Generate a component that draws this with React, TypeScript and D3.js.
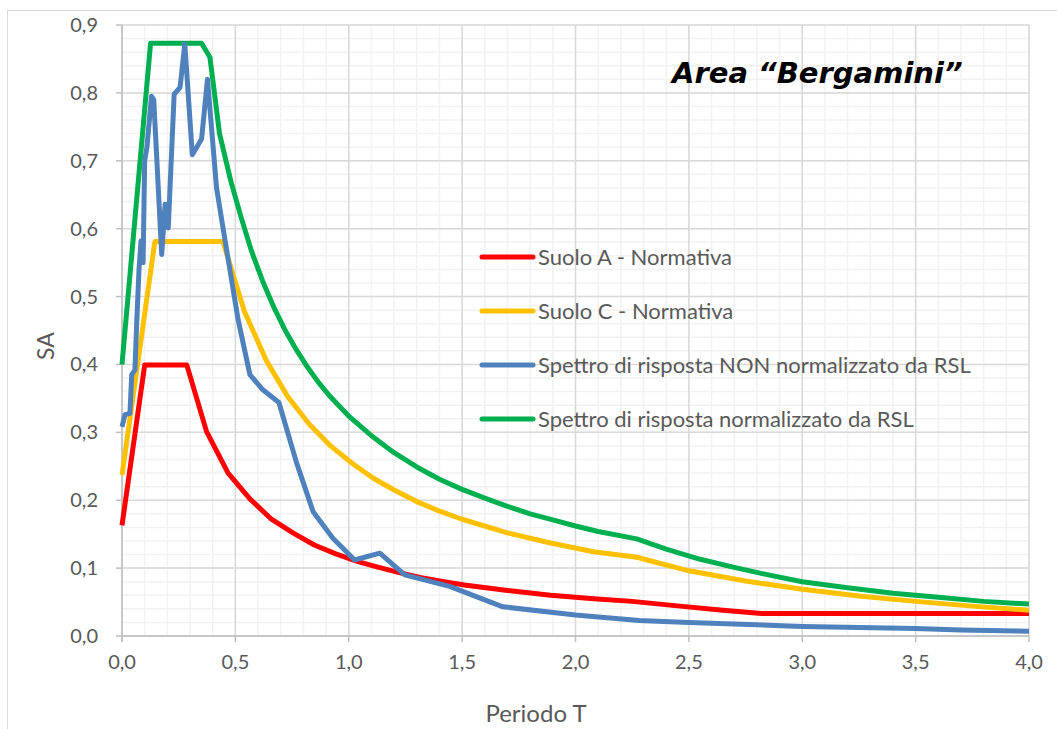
import * as d3 from "d3";

// periods (s) and spectral accelerations (g)
const suoloA_T = [0, 0.1, 0.286, 0.373, 0.468, 0.564, 0.659, 0.754, 0.848, 0.943, 1.037, 1.132, 1.227, 1.32, 1.42, 1.51, 1.7, 1.89, 2.08, 2.25, 2.46, 2.65, 2.82, 3.0, 3.5, 4.0];
const suoloA_SA = [0.163, 0.399, 0.399, 0.301, 0.24, 0.202, 0.172, 0.152, 0.134, 0.121, 0.11, 0.101, 0.093, 0.086, 0.08, 0.075, 0.067, 0.06, 0.055, 0.051, 0.044, 0.038, 0.033, 0.033, 0.033, 0.033];

const suoloC_T = [0, 0.145, 0.445, 0.54, 0.636, 0.73, 0.826, 0.92, 1.016, 1.11, 1.2, 1.3, 1.4, 1.5, 1.7, 1.89, 2.08, 2.27, 2.5, 2.75, 3.0, 3.25, 3.5, 3.75, 4.0];
const suoloC_SA = [0.237, 0.581, 0.581, 0.478, 0.406, 0.353, 0.312, 0.28, 0.254, 0.232, 0.215, 0.198, 0.184, 0.172, 0.152, 0.137, 0.124, 0.116, 0.096, 0.081, 0.069, 0.059, 0.051, 0.044, 0.038];

const nonNorm_T = [0, 0.013, 0.035, 0.043, 0.057, 0.065, 0.075, 0.084, 0.093, 0.1, 0.11, 0.13, 0.14, 0.175, 0.19, 0.204, 0.23, 0.256, 0.277, 0.31, 0.351, 0.377, 0.417, 0.446, 0.512, 0.564, 0.62, 0.692, 0.77, 0.843, 0.93, 1.026, 1.137, 1.247, 1.445, 1.68, 2.0, 2.28, 2.5, 3.0, 3.5, 3.7, 4.0];
const nonNorm_SA = [0.308, 0.326, 0.328, 0.385, 0.392, 0.462, 0.54, 0.582, 0.55, 0.7, 0.72, 0.795, 0.79, 0.562, 0.636, 0.601, 0.798, 0.808, 0.872, 0.709, 0.732, 0.82, 0.66, 0.6, 0.466, 0.385, 0.363, 0.344, 0.255, 0.183, 0.144, 0.112, 0.122, 0.09, 0.073, 0.043, 0.031, 0.023, 0.02, 0.014, 0.011, 0.009, 0.007];

const norm_T = [0, 0.126, 0.351, 0.388, 0.43, 0.48, 0.525, 0.57, 0.62, 0.67, 0.72, 0.77, 0.82, 0.87, 0.92, 1.0, 1.1, 1.2, 1.3, 1.4, 1.5, 1.6, 1.7, 1.8, 1.9, 2.0, 2.1, 2.27, 2.4, 2.55, 2.7, 2.85, 3.0, 3.2, 3.4, 3.6, 3.8, 4.0];
const norm_SA = [0.4, 0.873, 0.873, 0.852, 0.74, 0.67, 0.617, 0.568, 0.523, 0.484, 0.45, 0.421, 0.395, 0.372, 0.352, 0.324, 0.295, 0.27, 0.249, 0.231, 0.216, 0.203, 0.191, 0.18, 0.171, 0.162, 0.154, 0.143, 0.128, 0.113, 0.101, 0.09, 0.08, 0.071, 0.063, 0.057, 0.051, 0.047];

const xTicks = [0, 0.5, 1, 1.5, 2, 2.5, 3, 3.5, 4];
const yTicks = [0, 0.1, 0.2, 0.3, 0.4, 0.5, 0.6, 0.7, 0.8, 0.9];

const legendNames = ["Suolo A - Normativa", "Suolo C - Normativa", "Spettro di risposta NON normalizzato da RSL", "Spettro di risposta normalizzato da RSL"];
const colors = ["#ff0000", "#ffc000", "#4f81bd", "#00b050"];

const W = 1057;
const H = 729;
const font = "Lato, 'Open Sans', sans-serif";

export default function App() {
  const x = d3.scaleLinear().domain([0, 4]).range([122, 1029]);
  const y = d3.scaleLinear().domain([0, 0.9]).range([636, 25]);
  const fmt = (v: number) => d3.format(".1f")(v).replace(".", ",");

  const line = d3.line<[number, number]>().x((d) => x(d[0])).y((d) => y(d[1]));
  const series = [
    d3.zip(suoloA_T, suoloA_SA),
    d3.zip(suoloC_T, suoloC_SA),
    d3.zip(nonNorm_T, nonNorm_SA),
    d3.zip(norm_T, norm_SA),
  ] as [number, number][][];
  const drawOrder = [0, 1, 3, 2];

  const minorX = d3.range(0, 41).map((i) => i / 10);
  const minorY = d3.range(0, 46).map((i) => i / 50);

  return (
    <svg width={W} height={H} style={{ position: "absolute", left: 0, top: 0, background: "#fff" }}>
      <rect x={7.5} y={10.5} width={1100} height={800} fill="#fff" stroke="#d9d9d9" />
      {minorX.map((v) => (
        <line key={"mx" + v} x1={x(v)} x2={x(v)} y1={y(0.9)} y2={y(0)} stroke="#f2f2f2" strokeWidth={1.5} />
      ))}
      {minorY.map((v) => (
        <line key={"my" + v} x1={x(0)} x2={x(4)} y1={y(v)} y2={y(v)} stroke="#f2f2f2" strokeWidth={1.5} />
      ))}
      {xTicks.map((v) => (
        <line key={"gx" + v} x1={x(v)} x2={x(v)} y1={y(0.9)} y2={y(0)} stroke="#d9d9d9" strokeWidth={1.5} />
      ))}
      {yTicks.map((v) => (
        <line key={"gy" + v} x1={x(0)} x2={x(4)} y1={y(v)} y2={y(v)} stroke="#d9d9d9" strokeWidth={1.5} />
      ))}
      <line x1={x(0)} x2={x(0)} y1={y(0.9)} y2={y(0) + 6} stroke="#bfbfbf" strokeWidth={1.5} />
      <line x1={x(0)} x2={x(4)} y1={y(0)} y2={y(0)} stroke="#bfbfbf" strokeWidth={1.5} />
      {yTicks.map((v) => (
        <g key={"ty" + v}>
          <line x1={x(0) - 6} x2={x(0)} y1={y(v)} y2={y(v)} stroke="#bfbfbf" strokeWidth={1.5} />
          <text x={x(0) - 24} y={y(v)} dy="0.35em" textAnchor="end" fontFamily={font} fontSize={20} fill="#595959">
            {fmt(v)}
          </text>
        </g>
      ))}
      {xTicks.map((v) => (
        <g key={"tx" + v}>
          <line x1={x(v)} x2={x(v)} y1={y(0)} y2={y(0) + 6} stroke="#bfbfbf" strokeWidth={1.5} />
          <text x={x(v)} y={662} dy="0.35em" textAnchor="middle" fontFamily={font} fontSize={20} fill="#595959">
            {fmt(v)}
          </text>
        </g>
      ))}
      {drawOrder.map((i) => (
        <path key={"s" + i} d={line(series[i]) || ""} fill="none" stroke={colors[i]} strokeWidth={5} strokeLinejoin="round" />
      ))}
      {legendNames.map((name, i) => {
        const ly = 257 + i * 54;
        return (
          <g key={"lg" + i}>
            <line x1={482} x2={533} y1={ly} y2={ly} stroke={colors[i]} strokeWidth={5} strokeLinecap="round" />
            <text x={538} y={ly} dy="0.35em" fontFamily={font} fontSize={22} fill="#595959">
              {name}
            </text>
          </g>
        );
      })}
      <text x={672} y={83} fontFamily="'DejaVu Sans', sans-serif" fontWeight="bold" fontStyle="italic" fontSize={29} fill="#000">
        Area “Bergamini”
      </text>
      <text transform={`translate(46,346) rotate(-90)`} textAnchor="middle" dy="0.35em" fontFamily={font} fontSize={23} fill="#595959">
        SA
      </text>
      <text x={536} y={722} textAnchor="middle" fontFamily={font} fontSize={24} fill="#595959">
        Periodo T
      </text>
    </svg>
  );
}
